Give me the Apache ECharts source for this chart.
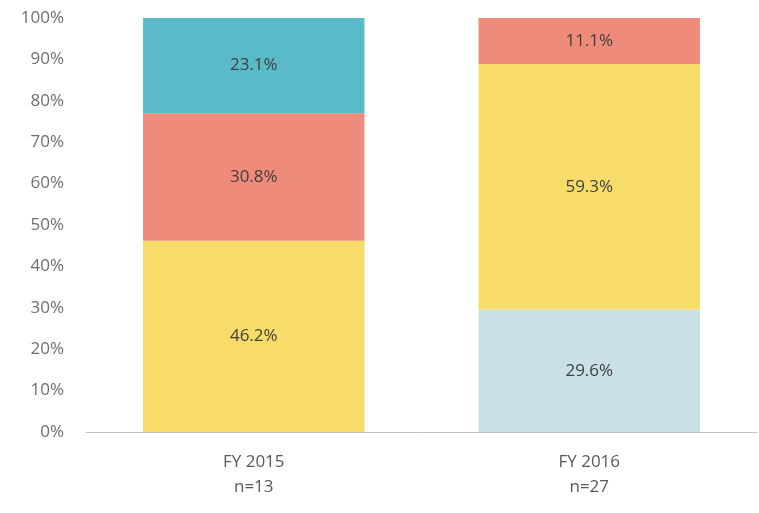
<!DOCTYPE html>
<html>
<head>
<meta charset="utf-8">
<script src="https://cdn.jsdelivr.net/npm/echarts@6/dist/echarts.min.js"></script>
<style>
	html, body { margin: 0; padding: 0; background: #fff; }
	#chart { width: 759px; height: 513px; }
</style>
</head>
<body>
<div id="chart"></div>
<script>
var categories = ['FY 2015\nn=13', 'FY 2016\nn=27'];
// stacked bottom to top
var lightBlue = [0, 29.6];
var yellow = [46.2, 59.3];
var salmon = [30.8, 11.1];
var teal = [23.1, 0];

var chart = echarts.init(document.getElementById('chart'));

function makeSeries(name, data, color) {
	return {
		name: name,
		type: 'bar',
		stack: 'total',
		barWidth: '66%',
		data: data,
		itemStyle: { color: color },
		label: {
			show: true,
			position: 'inside',
			color: '#404040',
			fontSize: 17,
			fontFamily: 'Open Sans',
			formatter: function (p) {
				return p.value ? p.value.toFixed(1) + '%' : '';
			}
		}
	};
}

var option = {
	animation: false,
	grid: { left: 86, right: 2, top: 18, bottom: 81 },
	xAxis: {
		type: 'category',
		data: categories,
		axisLine: { lineStyle: { color: '#bfbfbf' } },
		axisTick: { show: false },
		axisLabel: {
			color: '#595959',
			fontSize: 17,
			fontFamily: 'Open Sans',
			lineHeight: 25,
			margin: 18
		}
	},
	yAxis: {
		type: 'value',
		min: 0,
		max: 100,
		interval: 10,
		axisLine: { show: false },
		axisTick: { show: false },
		splitLine: { show: false },
		axisLabel: {
			color: '#6f6f6f',
			fontSize: 17,
			fontFamily: 'Open Sans',
			margin: 22,
			formatter: '{value}%'
		}
	},
	series: [
		makeSeries('a', lightBlue, '#c8e0e6'),
		makeSeries('b', yellow, '#f8dc69'),
		makeSeries('c', salmon, '#ef8b7a'),
		makeSeries('d', teal, '#5bbac8')
	]
};
chart.setOption(option);
</script>
</body>
</html>
